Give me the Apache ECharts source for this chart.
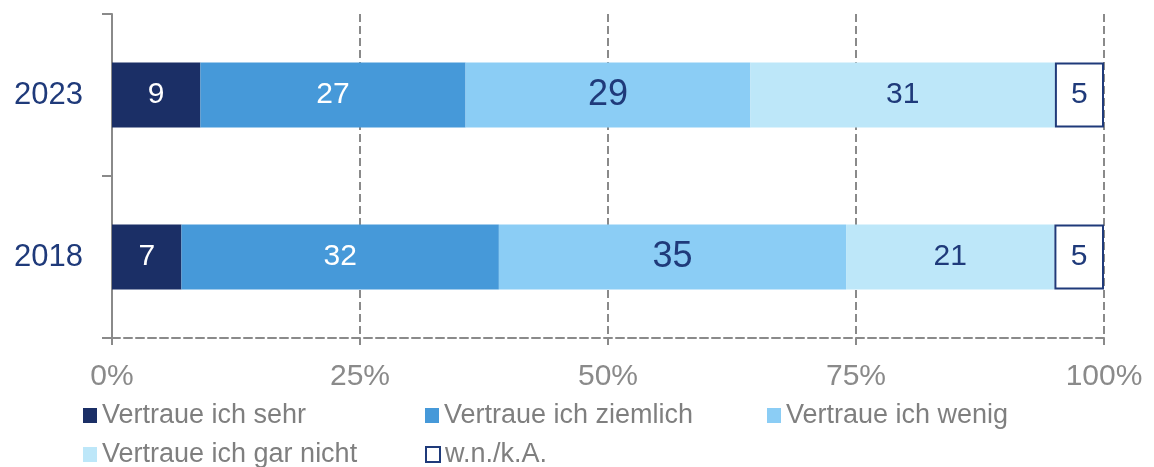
<!DOCTYPE html>
<html>
<head>
<meta charset="utf-8">
<script src="https://cdn.jsdelivr.net/npm/echarts@6/dist/echarts.min.js"></script>
<style>
  html, body { margin: 0; padding: 0; background: #fff; }
  #chart { width: 1154px; height: 467px; }
</style>
</head>
<body>
<div id="chart"></div>
<script>
// Kategorien (oben nach unten)
const years = ['2023', '2018']
const seriesNames = ['Vertraue ich sehr', 'Vertraue ich ziemlich', 'Vertraue ich wenig', 'Vertraue ich gar nicht', 'w.n./k.A.']
// Werte in Prozent, wie beschriftet
const sehr = [9, 7]
const ziemlich = [27, 32]
const wenig = [29, 35]
const garNicht = [31, 21]
const wnka = [5, 5]

const values = [sehr, ziemlich, wenig, garNicht, wnka]
const colors = ['#1b2f66', '#4699d9', '#8bcdf5', '#bde7f9', '#ffffff']
const labelColors = ['#ffffff', '#ffffff', '#1f3a7a', '#1f3a7a', '#1f3a7a']
const labelSizes = [30, 30, 36, 30, 30]
const navy = '#1f3a7a'
const grey = '#8a8a8a'

// Zeilensummen, damit jeder Balken auf 100 % normiert wird
const totals = years.map((_, i) => values.reduce((s, arr) => s + arr[i], 0))

const chart = echarts.init(document.getElementById('chart'))

const series = seriesNames.map((name, k) => ({
  name,
  type: 'bar',
  stack: 'total',
  barWidth: 65,
  data: values[k].map((v, i) => (v / totals[i]) * 100),
  itemStyle: k === 4
    ? { color: colors[k], borderColor: navy, borderWidth: 2 }
    : { color: colors[k] },
  label: {
    show: true,
    position: 'inside',
    color: labelColors[k],
    fontSize: labelSizes[k],
    fontFamily: 'Liberation Sans, Arial, sans-serif',
    formatter: (p) => String(values[k][p.dataIndex]),
  },
  emphasis: { disabled: true },
}))

// Legende: je Eintrag eine eigene Komponente, damit die Spalten sitzen
const legendPos = [
  [83, 402], [425, 402], [767, 402],
  [83, 441], [425, 441],
]
const legends = seriesNames.map((name, k) => ({
  left: legendPos[k][0],
  top: legendPos[k][1],
  padding: 0,
  icon: 'rect',
  itemWidth: 14,
  itemHeight: 15,
  selectedMode: false,
  textStyle: {
    color: '#7f7f7f',
    fontSize: 27,
    lineHeight: 27,
    fontFamily: 'Liberation Sans, Arial, sans-serif',
  },
  data: [
    k === 4
      ? { name, itemStyle: { color: '#fff', borderColor: navy, borderWidth: 2 } }
      : { name },
  ],
}))

const option = {
  animation: false,
  textStyle: { fontFamily: 'Liberation Sans, Arial, sans-serif' },
  grid: { left: 112, right: 50, top: 14, bottom: 129, containLabel: false },
  legend: legends,
  xAxis: {
    type: 'value',
    min: 0,
    max: 100,
    interval: 25,
    axisLine: { show: true, lineStyle: { color: grey, width: 2, type: 'dashed' } },
    axisTick: { show: true, length: 7, lineStyle: { color: grey, width: 2 } },
    axisLabel: { color: grey, fontSize: 30, margin: 24, formatter: '{value}%' },
    splitLine: { show: true, lineStyle: { color: grey, width: 2, type: 'dashed' } },
  },
  yAxis: {
    type: 'category',
    inverse: true,
    data: years,
    axisLine: { show: true, lineStyle: { color: grey, width: 2 } },
    axisTick: { show: true, length: 10, lineStyle: { color: grey, width: 2 } },
    axisLabel: { color: navy, fontSize: 31, margin: 29 },
  },
  series,
}

chart.setOption(option)
</script>
</body>
</html>
